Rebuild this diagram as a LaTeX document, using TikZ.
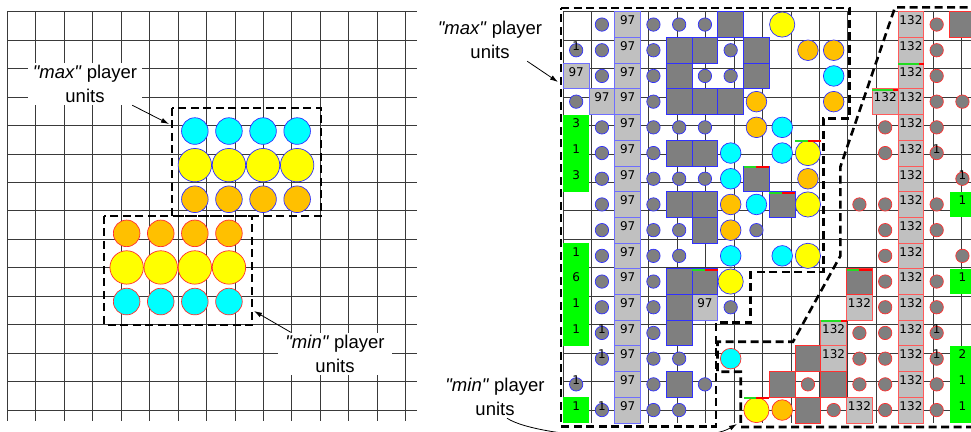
\documentclass[tikz,border=0pt]{standalone}
\usepackage{fontspec}
\setmainfont{Liberation Sans}[Ligatures=TeXOff]
\newfontfamily\cellfont{DejaVu Sans}
\usetikzlibrary{arrows.meta,positioning}
\definecolor{unitcyan}{HTML}{00FFFF}
\definecolor{unityellow}{HTML}{FFFF00}
\definecolor{unitorange}{HTML}{FFC000}
\definecolor{basegray}{HTML}{7F7F7F}
\definecolor{wallgray}{HTML}{C0C0C0}
\definecolor{resgreen}{HTML}{00FF00}
\definecolor{maxblue}{HTML}{3030FF}
\definecolor{minred}{HTML}{FF3030}
\definecolor{gridgray}{HTML}{3A3A3A}
\definecolor{hpgreen}{HTML}{22DD22}
\tikzset{
  gridline/.style={gridgray,line width=0.8pt},
  maxunit/.style={draw=maxblue,line width=0.7pt},
  minunit/.style={draw=minred,line width=0.7pt},
  region/.style={black,line width=2.6pt,dash pattern=on 8pt off 4.5pt},
  pointer/.style={-{Latex[length=8pt,width=5pt]},line width=0.8pt},
  callout/.style={align=center,font=\fontsize{18.5}{24}\selectfont,inner sep=0pt,minimum width=114pt,minimum height=42pt},
  celltext/.style={inner sep=0pt,font=\cellfont\fontsize{12}{12}\selectfont},
}

\begin{document}
\begin{tikzpicture}[x=1pt,y=-1pt,>=Latex]
\useasboundingbox (0,0) rectangle (971,431);
\clip (0,0) rectangle (971,431);

% left board
\begin{scope}[shift={(7.3,11.7)},x=34.1pt,y=-34.1pt]
\draw[gridline] (0,0) grid (12,12);
\foreach \c in {5,...,8} {
  \draw[maxunit,fill=unitcyan] (\c+0.5,3.5) circle (0.39);
  \draw[maxunit,fill=unityellow] (\c+0.5,4.5) circle (0.49);
  \draw[maxunit,fill=unitorange] (\c+0.5,5.5) circle (0.39);
}
\foreach \c in {3,...,6} {
  \draw[minunit,fill=unitorange] (\c+0.5,6.5) circle (0.39);
  \draw[minunit,fill=unityellow] (\c+0.5,7.5) circle (0.49);
  \draw[minunit,fill=unitcyan] (\c+0.5,8.5) circle (0.39);
}
\draw[region] (4.83,2.82) rectangle (9.2,5.99);
\draw[region] (2.84,5.99) rectangle (7.18,9.19);
\end{scope}

\node[callout,fill=white] (maxlbl) at (85,84) {\textit{"max"} player\\units};
\node[callout,fill=white] (minlbl) at (335,353.5) {\textit{"min"} player\\units};
\coordinate (maxtip) at (169,124);
\coordinate (mintip) at (254,311);
\draw[pointer] ([xshift=-10pt]maxlbl.south east) -- (maxtip);
\draw[pointer] ([xshift=13pt]minlbl.north west) -- (mintip);

% right board
\begin{scope}[shift={(563.3,11.7)},x=25.75pt,y=-25.7pt]
\draw[gridline] (0,0) grid (16,16);
\foreach \c/\r/\n in {0/4/3,0/5/1,0/6/3,0/9/1,0/10/6,0/11/1,0/12/1,0/15/1,15/7/1,15/10/1,15/13/2,15/14/1,15/15/1} {
  \fill[resgreen] (\c,\r) rectangle ++(1,1);
  \node[celltext] (res-\c-\r) at (\c+0.5,\r+0.34) {\n};
}
\foreach \c/\r in {2/0,2/1,2/2,2/3,2/4,2/5,2/6,2/7,2/8,2/9,2/10,2/11,2/12,2/13,2/14,2/15,0/2,1/3,5/11} {
  \draw[maxblue!70,line width=0.7pt,fill=wallgray] (\c,\r) rectangle ++(1,1);
  \node[celltext] (wallmax-\c-\r) at (\c+0.5,\r+0.34) {97};
}
\foreach \c/\r in {13/0,13/1,13/2,13/3,13/4,13/5,13/6,13/7,13/8,13/9,13/10,13/11,13/12,13/13,13/14,13/15,12/3,11/11,10/12,10/13,11/15} {
  \draw[minred!80,line width=0.7pt,fill=wallgray] (\c,\r) rectangle ++(1,1);
  \node[celltext] (wallmin-\c-\r) at (\c+0.5,\r+0.34) {132};
}
\foreach \c/\r in {6/0,4/1,5/1,7/1,4/2,7/2,4/3,5/3,6/3,4/5,5/5,7/6,4/7,5/7,8/7,5/8,4/10,5/10,4/11,4/12,4/14}
  \draw[maxblue,line width=0.7pt,fill=basegray] (\c,\r) rectangle ++(1,1);
\foreach \c/\r in {15/0,11/10,9/13,8/14,10/14,9/15}
  \draw[minred,line width=0.7pt,fill=basegray] (\c,\r) rectangle ++(1,1);
\foreach \r in {0,...,15}
  \draw[maxunit,fill=basegray] (3.5,\r+0.5) circle (0.26);
\foreach \r in {0,1,2,4,5,6,7,8,9,10,11,12,13,15}
  \draw[maxunit,fill=basegray] (1.5,\r+0.5) circle (0.26);
\foreach \c/\r in {4/0,5/0,0/1,6/1,5/2,6/2,0/3,4/4,5/4,4/6,5/6,4/8,7/8,4/9,6/11,4/13,0/14,5/14,4/15}
  \draw[maxunit,fill=basegray] (\c+0.5,\r+0.5) circle (0.26);
\foreach \c/\r in {14/0,14/1,14/2,14/3,15/3,12/4,14/4,12/5,14/5,15/6,11/7,12/7,14/7,12/8,14/8,12/9,15/9,12/10,14/10,12/11,14/11,11/12,12/12,14/12,11/13,12/13,14/13,9/14,11/14,12/14,14/14,10/15,12/15,14/15}
  \draw[minunit,fill=basegray] (\c+0.5,\r+0.5) circle (0.26);
\foreach \c/\r in {8/0,9/5,9/7,9/9,6/10}
  \draw[maxunit,fill=unityellow] (\c+0.5,\r+0.5) circle (0.49);
\foreach \c/\r in {9/1,10/1,7/3,10/3,7/4,9/6,6/7,6/8}
  \draw[maxunit,fill=unitorange] (\c+0.5,\r+0.5) circle (0.4);
\foreach \c/\r in {10/2,8/4,6/5,8/5,6/6,7/7,6/9,8/9}
  \draw[maxunit,fill=unitcyan] (\c+0.5,\r+0.5) circle (0.4);
\draw[minunit,fill=unitcyan] (6.5,13.5) circle (0.4);
\draw[minunit,fill=unityellow] (7.5,15.5) circle (0.49);
\draw[minunit,fill=unitorange] (8.5,15.5) circle (0.4);
\foreach \c/\r in {0/1,1/12,1/13,0/14,1/15,14/5,15/6,14/12,14/13}
  \node[celltext] (carry-\c-\r) at (\c+0.5,\r+0.34) {1};
\foreach \c/\r/\f in {13/2/0.8,12/3/0.8,9/5/0.5,7/6/0.5,8/7/0.5,5/10/0.5,11/10/0.5,10/12/0.78,7/15/0.5} {
  \fill[hpgreen] (\c,\r) rectangle ++(\f,0.08);
  \fill[red] (\c+\f,\r) rectangle (\c+1,\r+0.08);
}
\end{scope}

\draw[region] (561,8) -- (849.5,8) -- (849.5,118.5) -- (823.3,118.5) -- (823.3,272) -- (750.5,272) -- (750.5,322.7) -- (715.8,322.7) -- (715.8,426.5) -- (561,426.5) -- cycle;
\draw[region] (980,7.3) -- (895,7.3) -- (840.3,167) -- (840.3,256) -- (793,341.7) -- (717.5,341.7) -- (717.5,371.7) -- (740.7,371.7) -- (740.7,427) -- (980,427);

\node[callout] (maxlblr) at (490,40) {\textit{"max"} player\\units};
\node[callout] (minlblr) at (495,397) {\textit{"min"} player\\units};
\coordinate (maxtipr) at (558,82);
\coordinate (mintipr) at (737,424);
\draw[pointer] ([xshift=-20pt]maxlblr.south east) -- (maxtipr);
\draw[pointer] ([xshift=12pt]minlblr.south) .. controls (540,440) and (700,446) .. (mintipr);
\end{tikzpicture}
\end{document}
